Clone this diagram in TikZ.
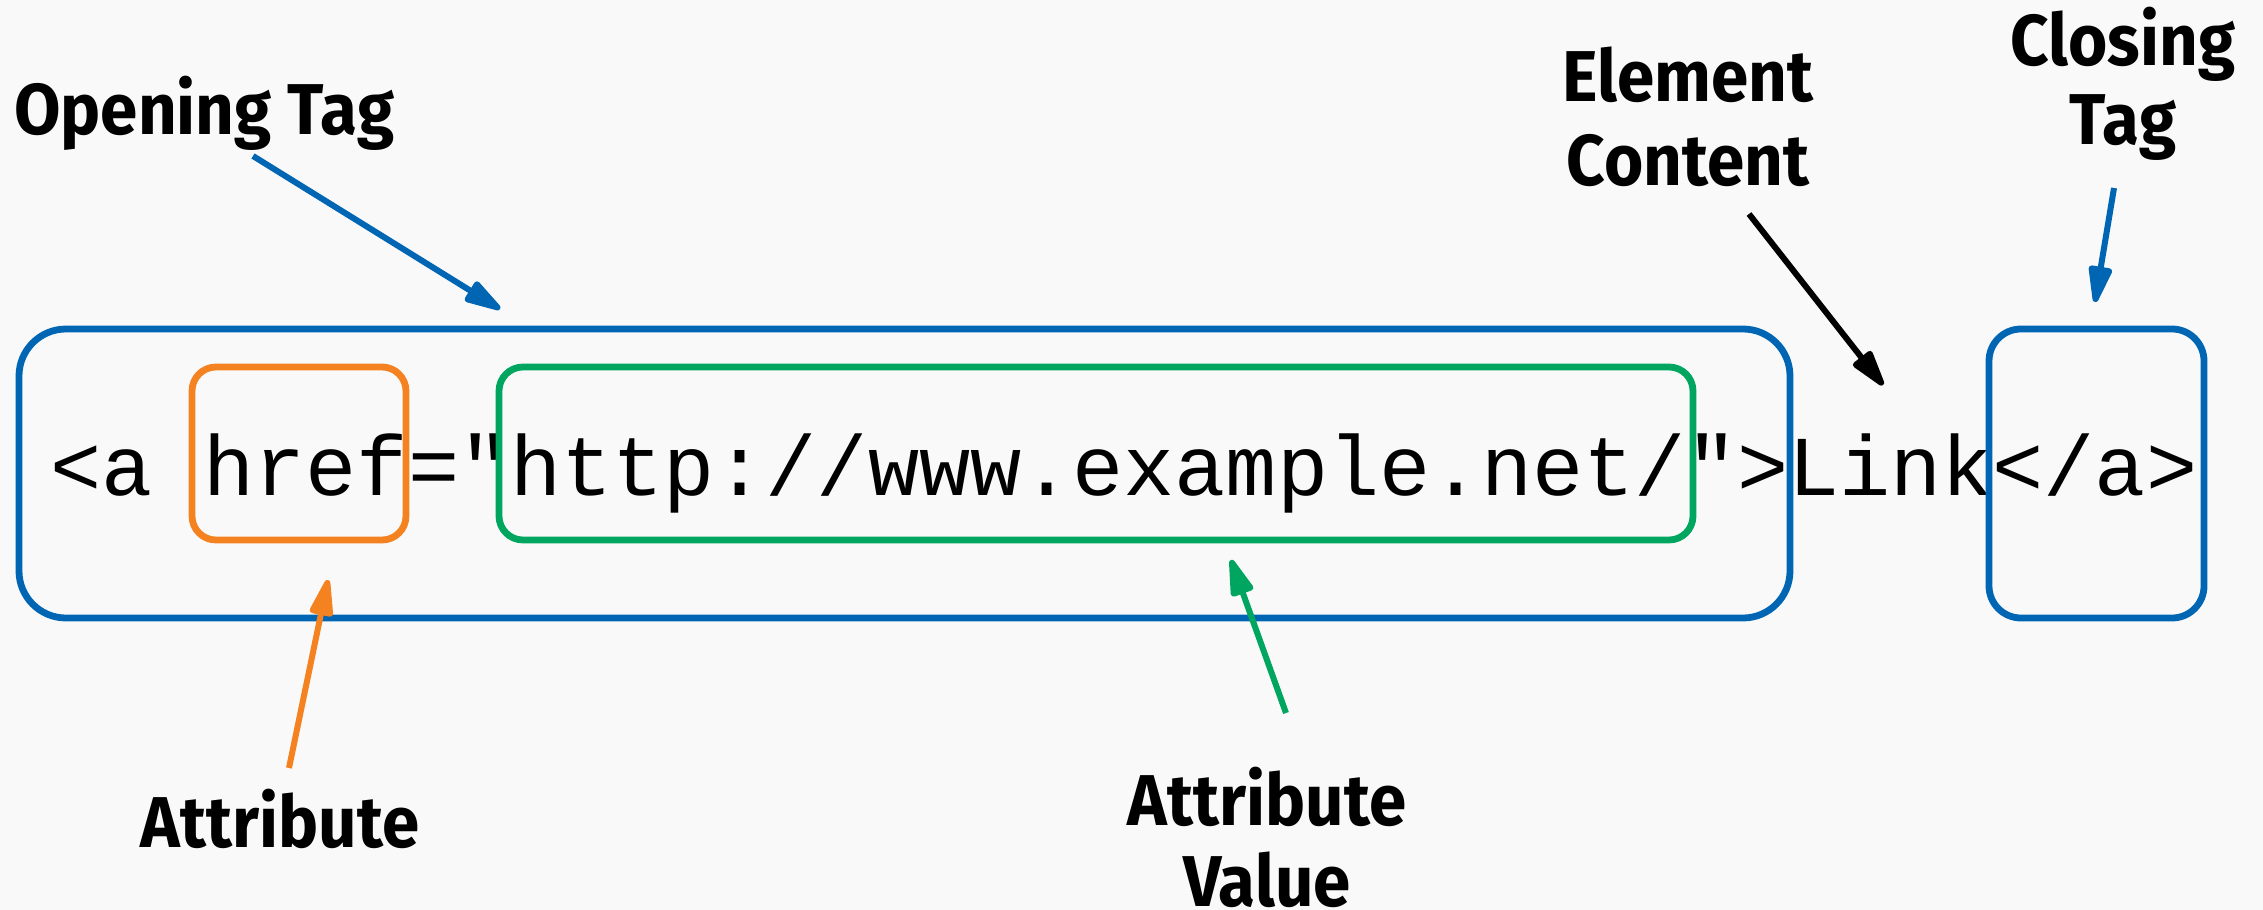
\documentclass[tikz,border=0pt]{standalone}
\usepackage{fontspec}
\setmonofont{Liberation Mono}
\newfontfamily\lblfont[FakeStretch=0.935]{Fira Sans}
\usetikzlibrary{arrows.meta}
\definecolor{tagblue}{RGB}{0,102,179}
\definecolor{attrorange}{RGB}{245,130,32}
\definecolor{valgreen}{RGB}{0,166,96}
\definecolor{bg}{RGB}{249,249,249}

\begin{document}
\begin{tikzpicture}[x=1pt,y=-1pt,
  lbl/.style={font=\lblfont\bfseries\fontsize{72}{81}\selectfont, inner sep=0pt, align=center},
  frame/.style={draw, line width=6.8pt, inner sep=0pt},
  pointer/.style={line width=6pt, -{Triangle[length=44pt,width=24pt,round]}},
]
\fill[bg] (0,0) rectangle (2263,910);
\useasboundingbox (0,0) rectangle (2263,910);

% the markup line
\node[anchor=base west, inner sep=0pt, font=\ttfamily\fontsize{85.2}{90}\selectfont] (code) at (50,495)
  {<a href="http://www.example.net/">Link</a>};

% frames around the parts of the element
\node[frame, tagblue, minimum width=1771pt, minimum height=289pt, rounded corners=47pt] (open) at (904.5,473.5) {};
\node[frame, tagblue, minimum width=215pt, minimum height=289pt, rounded corners=32pt] (close) at (2096.5,473.5) {};
\node[frame, attrorange, minimum width=214pt, minimum height=173pt, rounded corners=24pt] (attrbox) at (299,453.5) {};
\node[frame, valgreen, minimum width=1194pt, minimum height=173pt, rounded corners=24pt] (valbox) at (1096,453.5) {};

% labels (anchored on the baseline of their last line)
\node[lbl, anchor=base west] (optag) at (14,134) {Opening Tag};
\node[lbl, anchor=base, font=\lblfont\bfseries\fontsize{72}{84}\selectfont] (elcont) at (1688,185) {Element\\Content};
\node[lbl, anchor=base, font=\lblfont\bfseries\fontsize{72}{79}\selectfont] (cltag) at (2123,144) {Closing\\Tag};
\node[lbl, anchor=base] (attr) at (280,847) {Attribute};
\node[lbl, anchor=base] (attrval) at (1267,906) {Attribute\\Value};

% pointer ends
\coordinate (optagS) at (253,156);  \coordinate (optagE) at (500,309);
\coordinate (elcontS) at (1749,214); \coordinate (elcontE) at (1883,385);
\coordinate (cltagS) at (2114,188);  \coordinate (cltagE) at (2095,302);
\coordinate (attrS) at (289,768);    \coordinate (attrE) at (328,580);
\coordinate (attrvalS) at (1286,713); \coordinate (attrvalE) at (1231,560);

\draw[pointer, tagblue] (optagS) -- (optagE);
\draw[pointer, black] (elcontS) -- (elcontE);
\draw[pointer, tagblue] (cltagS) -- (cltagE);
\draw[pointer, attrorange] (attrS) -- (attrE);
\draw[pointer, valgreen] (attrvalS) -- (attrvalE);
\end{tikzpicture}
\end{document}
